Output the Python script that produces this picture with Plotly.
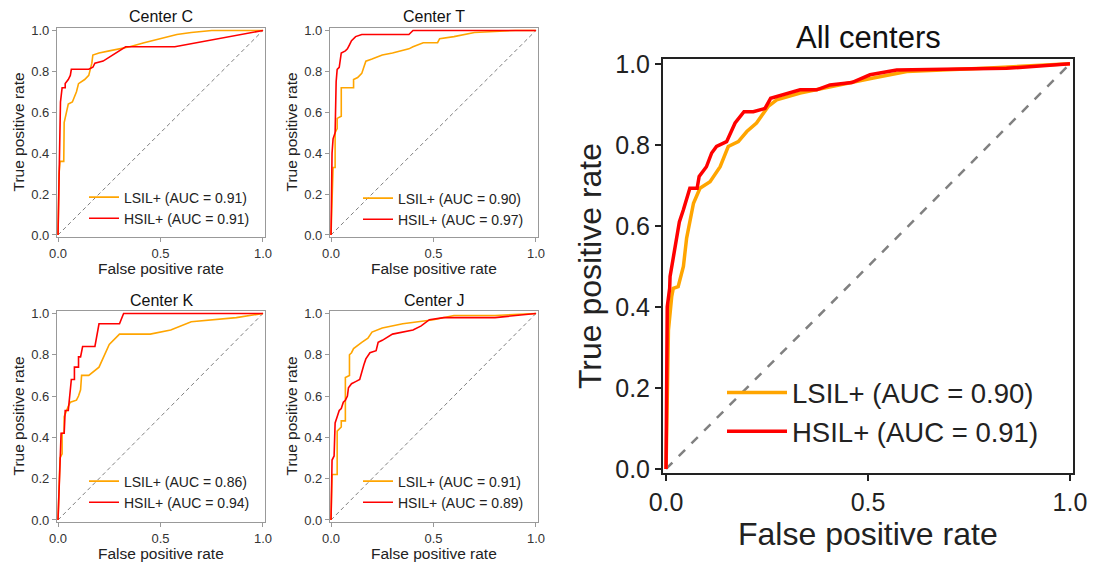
import plotly.graph_objects as go

# ---------------- data ----------------
tick_x = [0.0, 0.5, 1.0]
tick_y = [0.0, 0.2, 0.4, 0.6, 0.8, 1.0]

panel_titles = ["Center C", "Center T", "Center K", "Center J", "All centers"]
lsil_labels = ["LSIL+ (AUC = 0.91)", "LSIL+ (AUC = 0.90)", "LSIL+ (AUC = 0.86)",
               "LSIL+ (AUC = 0.91)", "LSIL+ (AUC = 0.90)"]
hsil_labels = ["HSIL+ (AUC = 0.91)", "HSIL+ (AUC = 0.97)", "HSIL+ (AUC = 0.94)",
               "HSIL+ (AUC = 0.89)", "HSIL+ (AUC = 0.91)"]

# Center C
c_lsil_fpr = [0, 0.005, 0.01, 0.028, 0.03, 0.04, 0.05, 0.07, 0.09, 0.10, 0.13, 0.15, 0.165, 0.17, 0.20, 0.25, 0.30, 0.35, 0.42, 0.50, 0.58, 0.65, 0.75, 1.0]
c_lsil_tpr = [0, 0.30, 0.36, 0.36, 0.55, 0.60, 0.64, 0.65, 0.70, 0.74, 0.76, 0.78, 0.84, 0.88, 0.89, 0.90, 0.91, 0.92, 0.94, 0.96, 0.98, 0.99, 1.0, 1.0]
c_hsil_fpr = [0, 0.005, 0.01, 0.012, 0.02, 0.035, 0.035, 0.05, 0.06, 0.065, 0.15, 0.17, 0.18, 0.22, 0.33, 0.57, 1.0]
c_hsil_tpr = [0, 0.30, 0.55, 0.65, 0.72, 0.72, 0.74, 0.76, 0.78, 0.81, 0.81, 0.82, 0.84, 0.85, 0.92, 0.92, 1.0]

# Center T
t_lsil_fpr = [0, 0.01, 0.02, 0.02, 0.03, 0.03, 0.05, 0.05, 0.11, 0.11, 0.13, 0.15, 0.16, 0.17, 0.20, 0.25, 0.30, 0.38, 0.40, 0.45, 0.52, 0.53, 0.60, 0.70, 0.90, 1.0]
t_lsil_tpr = [0, 0.33, 0.33, 0.50, 0.52, 0.57, 0.58, 0.72, 0.72, 0.76, 0.77, 0.79, 0.82, 0.85, 0.86, 0.88, 0.89, 0.91, 0.92, 0.94, 0.94, 0.96, 0.97, 0.99, 1.0, 1.0]
t_hsil_fpr = [0, 0.005, 0.01, 0.02, 0.025, 0.03, 0.04, 0.05, 0.07, 0.08, 0.09, 0.10, 0.12, 0.15, 0.38, 0.40, 1.0]
t_hsil_tpr = [0, 0.40, 0.47, 0.50, 0.75, 0.81, 0.82, 0.89, 0.90, 0.91, 0.93, 0.95, 0.97, 0.98, 0.98, 1.0, 1.0]

# Center K
k_lsil_fpr = [0, 0.005, 0.01, 0.02, 0.02, 0.03, 0.03, 0.05, 0.06, 0.09, 0.10, 0.11, 0.115, 0.15, 0.20, 0.25, 0.30, 0.45, 0.55, 0.65, 0.87, 1.0]
k_lsil_tpr = [0, 0.20, 0.30, 0.32, 0.42, 0.42, 0.50, 0.55, 0.57, 0.58, 0.60, 0.63, 0.70, 0.70, 0.74, 0.85, 0.90, 0.90, 0.92, 0.96, 0.98, 1.0]
k_hsil_fpr = [0, 0.01, 0.015, 0.03, 0.035, 0.05, 0.06, 0.065, 0.08, 0.08, 0.10, 0.10, 0.11, 0.12, 0.18, 0.20, 0.30, 0.32, 1.0]
k_hsil_tpr = [0, 0.35, 0.42, 0.42, 0.53, 0.53, 0.63, 0.68, 0.68, 0.74, 0.74, 0.79, 0.79, 0.84, 0.84, 0.95, 0.95, 1.0, 1.0]

# Center J
j_lsil_fpr = [0, 0.005, 0.03, 0.03, 0.05, 0.05, 0.07, 0.07, 0.09, 0.09, 0.10, 0.11, 0.15, 0.18, 0.20, 0.25, 0.35, 0.50, 0.60, 0.80, 1.0]
j_lsil_tpr = [0, 0.22, 0.22, 0.43, 0.45, 0.48, 0.48, 0.69, 0.70, 0.80, 0.81, 0.83, 0.86, 0.88, 0.91, 0.93, 0.95, 0.97, 0.99, 0.99, 1.0]
j_hsil_fpr = [0, 0.005, 0.015, 0.02, 0.03, 0.04, 0.05, 0.06, 0.07, 0.08, 0.085, 0.10, 0.12, 0.14, 0.16, 0.17, 0.19, 0.22, 0.23, 0.25, 0.30, 0.35, 0.40, 0.44, 0.48, 0.55, 0.80, 1.0]
j_hsil_tpr = [0, 0.29, 0.31, 0.47, 0.50, 0.53, 0.54, 0.57, 0.58, 0.60, 0.64, 0.66, 0.67, 0.68, 0.75, 0.78, 0.81, 0.82, 0.86, 0.87, 0.90, 0.91, 0.92, 0.94, 0.97, 0.98, 0.98, 1.0]

# All centers
a_lsil_fpr = [0, 0.006, 0.014, 0.018, 0.030, 0.043, 0.051, 0.055, 0.064, 0.068, 0.084, 0.109, 0.134, 0.154, 0.179, 0.200, 0.224, 0.253, 0.274, 0.332, 0.513, 0.596, 0.80, 1.0]
a_lsil_tpr = [0, 0.343, 0.425, 0.446, 0.450, 0.500, 0.570, 0.590, 0.640, 0.656, 0.693, 0.709, 0.746, 0.796, 0.808, 0.833, 0.854, 0.895, 0.911, 0.928, 0.965, 0.981, 0.99, 1.0]
a_hsil_fpr = [0, 0.003, 0.003, 0.009, 0.010, 0.017, 0.030, 0.033, 0.043, 0.059, 0.077, 0.082, 0.100, 0.113, 0.125, 0.150, 0.171, 0.193, 0.216, 0.245, 0.259, 0.290, 0.332, 0.373, 0.406, 0.460, 0.505, 0.571, 0.843, 1.0]
a_hsil_tpr = [0, 0.25, 0.40, 0.446, 0.475, 0.516, 0.590, 0.610, 0.640, 0.693, 0.693, 0.722, 0.746, 0.780, 0.796, 0.808, 0.854, 0.882, 0.882, 0.890, 0.915, 0.923, 0.936, 0.936, 0.948, 0.954, 0.973, 0.985, 0.989, 1.0]

lsil_fprs = [c_lsil_fpr, t_lsil_fpr, k_lsil_fpr, j_lsil_fpr, a_lsil_fpr]
lsil_tprs = [c_lsil_tpr, t_lsil_tpr, k_lsil_tpr, j_lsil_tpr, a_lsil_tpr]
hsil_fprs = [c_hsil_fpr, t_hsil_fpr, k_hsil_fpr, j_hsil_fpr, a_hsil_fpr]
hsil_tprs = [c_hsil_tpr, t_hsil_tpr, k_hsil_tpr, j_hsil_tpr, a_hsil_tpr]

# ---------------- layout helpers (pixel -> paper) ----------------
W, H = 1093, 563
FONT = "Liberation Sans, Arial, sans-serif"
ORANGE = "#FFA500"
RED = "#FF0000"


def fx(p):
    return p / W


def fy(p):
    return 1 - p / H


# frame boxes in pixels: (left, right, top, bottom)
boxes = [(57, 265, 28, 237), (330, 538, 28, 237),
         (57, 265, 311, 522), (330, 538, 311, 522),
         (663, 1073, 59, 473)]
big = [False, False, False, False, True]
# legend anchors: (left px, middle px)
leg_pos = [(84, 208), (358, 209), (84, 492), (358, 492), (722, 412)]

fig = go.Figure()
layout = dict(width=W, height=H,
              margin=dict(l=0, r=0, t=0, b=0, pad=0, autoexpand=False),
              paper_bgcolor="white", plot_bgcolor="white",
              font=dict(family=FONT, color="#222"))
annotations = []

for i in range(5):
    n = "" if i == 0 else str(i + 1)
    xa, ya = "x" + n, "y" + n
    lg = "legend" + n
    isbig = big[i]
    lw = 3.5 if isbig else 1.6
    fig.add_trace(go.Scatter(x=[0, 1], y=[0, 1], mode="lines", xaxis=xa, yaxis=ya,
                             line=dict(color="#808080", width=2.5 if isbig else 1,
                                       dash="dash" if isbig else "4px,3px"),
                             showlegend=False, hoverinfo="skip"))
    fig.add_trace(go.Scatter(x=lsil_fprs[i], y=lsil_tprs[i], mode="lines", xaxis=xa, yaxis=ya,
                             line=dict(color=ORANGE, width=lw), name=lsil_labels[i],
                             legend=lg, legendgroup="l" + n))
    fig.add_trace(go.Scatter(x=hsil_fprs[i], y=hsil_tprs[i], mode="lines", xaxis=xa, yaxis=ya,
                             line=dict(color=RED, width=lw), name=hsil_labels[i],
                             legend=lg, legendgroup="h" + n))

    L, R, T, B = boxes[i]
    fc = "#222" if isbig else "#999"
    tsize = 25 if isbig else 13
    common = dict(showgrid=False, zeroline=False, showline=True, mirror=True,
                  automargin=False,
                  linecolor=fc, linewidth=2 if isbig else 1.2,
                  ticks="outside", ticklen=6 if isbig else 4, tickcolor=fc,
                  tickwidth=1.5 if isbig else 1,
                  tickfont=dict(size=tsize, color="#222" if isbig else "#333", family=FONT),
                  tickformat=".1f", fixedrange=True)
    layout["xaxis" + n] = dict(common, domain=[fx(L), fx(R)], anchor=ya,
                               range=[-0.0075, 1.0075] if isbig else [-0.005, 1.01],
                               tickvals=tick_x)
    layout["yaxis" + n] = dict(common, domain=[fy(B), fy(T)], anchor=xa,
                               range=[-0.01, 1.012], tickvals=tick_y)

    lx, ly = leg_pos[i]
    layout[lg] = dict(x=fx(lx), y=fy(ly), xanchor="left", yanchor="middle",
                      bgcolor="rgba(255,255,255,0)", borderwidth=0,
                      font=dict(size=27.5 if isbig else 14, family=FONT, color="#222"),
                      tracegroupgap=0,
                      itemwidth=60 if isbig else 30)

    # titles
    cx = (L + R) / 2
    annotations.append(dict(text=panel_titles[i], x=fx(cx), y=fy(38 if isbig else T - 11),
                            xref="paper", yref="paper", showarrow=False,
                            xanchor="center", yanchor="middle",
                            font=dict(size=31 if isbig else 16, family=FONT, color="#111")))
    annotations.append(dict(text="False positive rate", x=fx(cx),
                            y=fy(534 if isbig else B + 31),
                            xref="paper", yref="paper", showarrow=False,
                            xanchor="center", yanchor="middle",
                            font=dict(size=32 if isbig else 15.5, family=FONT, color="#222")))
    annotations.append(dict(text="True positive rate", x=fx(590 if isbig else L - 39),
                            y=fy((T + B) / 2), textangle=-90,
                            xref="paper", yref="paper", showarrow=False,
                            xanchor="center", yanchor="middle",
                            font=dict(size=32 if isbig else 15.5, family=FONT, color="#222")))

layout["annotations"] = annotations
fig.update_layout(**layout)
fig.write_html("out.html", config={"displayModeBar": False},
               post_script="document.body.style.margin='0';document.body.style.overflow='hidden';")
